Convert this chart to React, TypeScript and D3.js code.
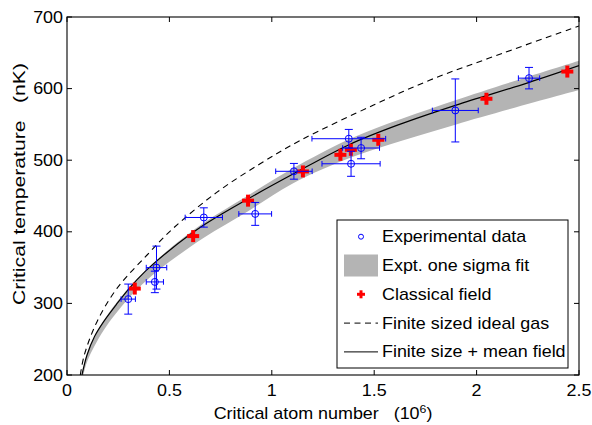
import React from "react";
import * as d3 from "d3";

// ---- data ----
const xTicks = [0, 0.5, 1, 1.5, 2, 2.5];
const yTicks = [200, 300, 400, 500, 600, 700];

// Experimental data: N (10^6), T (nK), errN, errT
const expN = [0.299, 0.437, 0.429, 0.668, 0.919, 1.108, 1.376, 1.436, 1.387, 1.896, 2.256];
const expT = [306, 350, 330, 420, 425, 484.5, 530, 517, 495, 569.5, 614.6];
const expErrN = [0.035, 0.05, 0.042, 0.091, 0.08, 0.089, 0.18, 0.09, 0.142, 0.112, 0.052];
const expErrT = [21, 30, 15, 13.5, 16, 11, 13, 15, 17.5, 44, 15];

// Classical field
const cfN = [0.331, 0.616, 0.884, 1.152, 1.335, 1.386, 1.52, 2.048, 2.443];
const cfT = [320.7, 394, 443.5, 484.3, 507.5, 514.5, 528.5, 585.8, 623.8];

// Finite size + mean field (solid)
const mfN = [0.073, 0.0977, 0.135, 0.179, 0.24, 0.301, 0.383, 0.5, 0.666, 0.878, 1.106, 1.38, 1.624, 1.9, 2.25, 2.5];
const mfT = [200, 228, 254, 274.5, 298, 320, 345, 374, 409, 445, 481, 522, 550, 577, 608, 632];

// Finite sized ideal gas (dashed)
const igN = [0.065, 0.0846, 0.1466, 0.244, 0.391, 0.519, 0.731, 0.943, 1.138, 1.497, 1.773, 2.124, 2.5];
const igT = [200, 228, 274.5, 321, 367.6, 405, 455, 495, 527.5, 577, 612, 649, 687.5];

// Expt. one sigma fit band
const bandUpN = [0.073, 0.1, 0.18, 0.3, 0.4, 0.5, 0.67, 0.88, 1.1, 1.4, 1.9, 2.5];
const bandUpT = [200, 230, 276, 321, 350, 376, 413, 450, 488, 532, 584, 639];
const bandLoN = [0.08, 0.1, 0.18, 0.3, 0.4, 0.5, 0.67, 0.88, 1.1, 1.4, 1.9, 2.5];
const bandLoT = [200, 220, 263, 307, 335, 358, 392, 428, 467, 505, 550, 598];

const legendLabels = [
  "Experimental data",
  "Expt. one sigma fit",
  "Classical field",
  "Finite sized ideal gas",
  "Finite size + mean field",
];

const W = 592;
const H = 425;
const L = 67, R = 579, T = 17, B = 375;
const FONT = "'Liberation Sans', Arial, Helvetica, sans-serif";
const FS = 16;
const SX = 1.12;

export default function App() {
  const x = d3.scaleLinear().domain([0, 2.5]).range([L, R]);
  const y = d3.scaleLinear().domain([200, 700]).range([B, T]);

  const pts = (ns: number[], ts: number[]) => ns.map((n, i) => [x(n), y(ts[i])] as [number, number]);
  const line = d3.line().curve(d3.curveCatmullRom.alpha(0.5));

  const mfPath = line(pts(mfN, mfT)) || "";
  const igPath = line(pts(igN, igT)) || "";
  const upPath = line(pts(bandUpN, bandUpT)) || "";
  const loPts = pts(bandLoN, bandLoT).reverse();
  const loPath = line(loPts) || "";
  const bandPath = upPath + "L" + loPath.slice(1) + "Z";

  const tickLen = 5;
  const cap = 4;
  const hcap = 2.8;

  const txt = (s: string, tx: number, ty: number, anchor: string, key?: any) => (
    <g key={key} transform={`translate(${tx},${ty}) scale(${SX},1)`}>
      <text x={0} y={0} textAnchor={anchor} fontFamily={FONT} fontSize={FS} fill="#000" style={{ whiteSpace: "pre" }}>
        {s}
      </text>
    </g>
  );

  const legX = 337, legY = 220, legW = 231, legH = 148;
  const rowY = (i: number) => 236.7 + i * 28.8;

  return (
    <svg width={W} height={H} style={{ position: "absolute", left: 0, top: 0, background: "#fff" }}>
      <defs>
        <clipPath id="plotclip">
          <rect x={L} y={T} width={R - L} height={B - T} />
        </clipPath>
      </defs>
      <rect x={0} y={0} width={W} height={H} fill="#fff" />
      <g clipPath="url(#plotclip)">
        <path d={bandPath} fill="#b4b4b4" stroke="none" />
        <path d={igPath} fill="none" stroke="#000" strokeWidth={1.1} strokeDasharray="6 4.5" />
        <path d={mfPath} fill="none" stroke="#000" strokeWidth={1.2} />
        {cfN.map((n, i) => {
          const cx = x(n), cy = y(cfT[i]);
          return (
            <g key={"cf" + i}>
              <line x1={cx - 6} x2={cx + 6} y1={cy} y2={cy} stroke="#ff0000" strokeWidth={4} />
              <line x1={cx} x2={cx} y1={cy - 6} y2={cy + 6} stroke="#ff0000" strokeWidth={4} />
            </g>
          );
        })}
        {expN.map((n, i) => {
          const cx = x(n), cy = y(expT[i]);
          const x0 = x(n - expErrN[i]), x1 = x(n + expErrN[i]);
          const y0 = y(expT[i] - expErrT[i]), y1 = y(expT[i] + expErrT[i]);
          return (
            <g key={"e" + i} stroke="#0000ff" strokeWidth={1} fill="none">
              <line x1={cx} x2={cx} y1={y0} y2={y1} />
              <line x1={cx - cap} x2={cx + cap} y1={y0} y2={y0} />
              <line x1={cx - cap} x2={cx + cap} y1={y1} y2={y1} />
              <line x1={x0} x2={x1} y1={cy} y2={cy} />
              <line x1={x0} x2={x0} y1={cy - hcap} y2={cy + hcap} />
              <line x1={x1} x2={x1} y1={cy - hcap} y2={cy + hcap} />
              <circle cx={cx} cy={cy} r={3.5} />
            </g>
          );
        })}
      </g>

      {/* axes frame */}
      <rect x={L} y={T} width={R - L} height={B - T} fill="none" stroke="#000" strokeWidth={1.1} />
      {xTicks.map((t, i) => (
        <g key={"xt" + i}>
          <line x1={x(t)} x2={x(t)} y1={B} y2={B - tickLen} stroke="#000" />
          <line x1={x(t)} x2={x(t)} y1={T} y2={T + tickLen} stroke="#000" />
          {txt(String(t), x(t), 396, "middle")}
        </g>
      ))}
      {yTicks.map((t, i) => (
        <g key={"yt" + i}>
          <line x1={L} x2={L + tickLen} y1={y(t)} y2={y(t)} stroke="#000" />
          <line x1={R} x2={R - tickLen} y1={y(t)} y2={y(t)} stroke="#000" />
          {txt(String(t), 63, y(t) + 5.5, "end")}
        </g>
      ))}

      {/* axis titles */}
      <g transform={`translate(323,419) scale(${SX},1)`}>
        <text x={0} y={0} textAnchor="middle" fontFamily={FONT} fontSize={FS} style={{ whiteSpace: "pre" }}>
          {"Critical atom number   (10"}
          <tspan dy={-6} fontSize={11}>6</tspan>
          <tspan dy={6}>)</tspan>
        </text>
      </g>
      <g transform={`translate(24.5,184) rotate(-90)`}>
        <text x={0} y={0} textAnchor="middle" fontFamily={FONT} fontSize={FS} style={{ whiteSpace: "pre" }} textLength={242} lengthAdjust="spacingAndGlyphs">
          {"Critical temperature   (nK)"}
        </text>
      </g>

      {/* legend */}
      <rect x={legX} y={legY} width={legW} height={legH} fill="#fff" stroke="#000" strokeWidth={1} />
      <circle cx={361} cy={rowY(0)} r={2.5} fill="none" stroke="#0000ff" strokeWidth={1} />
      <rect x={344} y={rowY(1) - 11} width={34} height={22} fill="#b4b4b4" />
      <line x1={361 - 4} x2={361 + 4} y1={rowY(2)} y2={rowY(2)} stroke="#ff0000" strokeWidth={3} />
      <line x1={361} x2={361} y1={rowY(2) - 4} y2={rowY(2) + 4} stroke="#ff0000" strokeWidth={3} />
      <line x1={344} x2={378} y1={rowY(3)} y2={rowY(3)} stroke="#000" strokeWidth={1} strokeDasharray="6 4.5" />
      <line x1={344} x2={378} y1={rowY(4)} y2={rowY(4)} stroke="#000" strokeWidth={1} />
      {legendLabels.map((s, i) => txt(s, 382, rowY(i) + 5.5, "start", "lg" + i))}
    </svg>
  );
}
